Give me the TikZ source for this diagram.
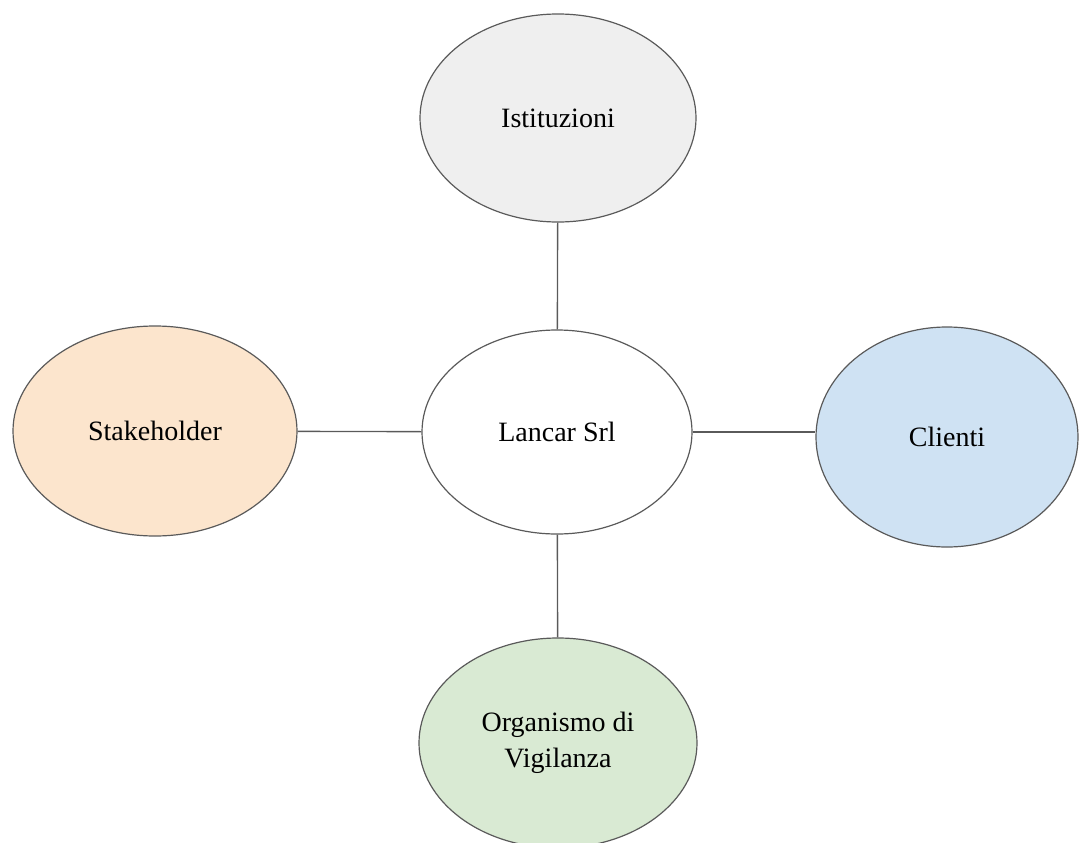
\documentclass[tikz,border=0pt]{standalone}
\usepackage{fontspec}
\setmainfont{Liberation Serif}
\usepackage{tikz}
\usetikzlibrary{shapes.geometric}
\definecolor{edge_gray}{RGB}{90,90,90}
\definecolor{node_gray}{RGB}{239,239,239}
\definecolor{node_orange}{RGB}{252,229,205}
\definecolor{node_blue}{RGB}{207,226,243}
\definecolor{node_green}{RGB}{217,234,211}

\begin{document}
\begin{tikzpicture}[x=0.75pt,y=-0.75pt,semithick]
    \tikzstyle{node}=[draw=edge_gray, ellipse, inner sep=0pt, line width=0.9pt, fill=white, text=black,
      align=center, font=\fontsize{21}{27}\selectfont]
    \tikzstyle{ist}=[style=node, fill=node_gray, minimum width=207pt, minimum height=156pt]
    \tikzstyle{lan}=[style=node, minimum width=202.5pt, minimum height=153pt]
    \tikzstyle{sta}=[style=node, fill=node_orange, minimum width=213pt, minimum height=157.5pt]
    \tikzstyle{cli}=[style=node, fill=node_blue, minimum width=196.5pt, minimum height=165pt]
    \tikzstyle{org}=[style=node, fill=node_green, minimum width=208.5pt, minimum height=157.5pt]

    \useasboundingbox (0,0) rectangle (1083,843);

    \node[lan] (lancar)  at (557,432) {Lancar Srl};
    \node[ist] (istit)   at (558,118) {Istituzioni};
    \node[sta] (stake)   at (155,431) {Stakeholder};
    \node[cli] (clienti) at (947,437) {Clienti};
    \node[org] (organ)   at (558,743) {Organismo di\\Vigilanza};

    \path[draw=edge_gray, line width=1pt]
     (istit) edge (lancar)
     (stake) edge (lancar)
     (lancar.east) edge (lancar.east -| clienti.west)
     (lancar) edge (organ)
     ;
  \end{tikzpicture}
\end{document}
